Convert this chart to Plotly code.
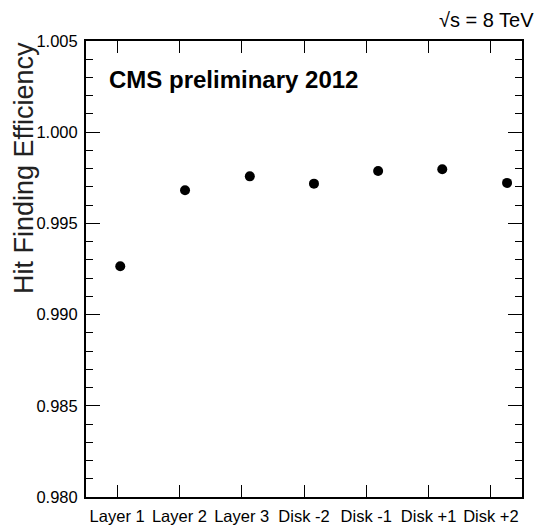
import plotly.graph_objects as go

categories = ["Layer 1", "Layer 2", "Layer 3", "Disk -2", "Disk -1", "Disk +1", "Disk +2"]
efficiency = [0.99265, 0.99682, 0.99758, 0.99718, 0.99787, 0.99797, 0.99722]
point_x = [0.55, 1.59, 2.63, 3.66, 4.69, 5.72, 6.76]
label_x = [i + 0.5 for i in range(len(categories))]
y_ticks = [0.980, 0.985, 0.990, 0.995, 1.000, 1.005]

W, H = 539, 525
L, R, T, B = 86, 17, 41, 28
FONT = "Liberation Sans, Arial, Helvetica, sans-serif"

fig = go.Figure()
fig.add_trace(go.Scatter(
    x=point_x, y=efficiency, mode="markers",
    marker=dict(color="black", size=10, symbol="circle"),
    showlegend=False, hoverinfo="skip", cliponaxis=False,
))

fig.update_layout(
    width=W, height=H,
    margin=dict(l=L, r=R, t=T, b=B, pad=0, autoexpand=False),
    paper_bgcolor="white", plot_bgcolor="white",
    font=dict(family=FONT, color="black", size=16),
    xaxis=dict(
        range=[0, 7], tickmode="array", tickvals=label_x, ticktext=categories,
        ticks="inside", ticklen=12, tickwidth=1, tickcolor="black",
        showline=True, linewidth=2, linecolor="black", mirror="allticks",
        showgrid=False, zeroline=False, automargin=False,
        tickfont=dict(size=16.5, family=FONT, color="black"),
        ticklabelstandoff=3,
    ),
    yaxis=dict(
        range=[0.980, 1.005], tickmode="array", tickvals=y_ticks,
        ticktext=[f"{v:.3f}" for v in y_ticks],
        ticks="inside", ticklen=14, tickwidth=1, tickcolor="black",
        minor=dict(ticks="inside", ticklen=7, dtick=0.001, tick0=0.98,
                   tickcolor="black", tickwidth=1, showgrid=False),
        showline=True, linewidth=2, linecolor="black", mirror="allticks",
        showgrid=False, zeroline=False, automargin=False,
        tickfont=dict(size=16.5, family=FONT, color="black"),
        ticklabelstandoff=3,
    ),
)

pw = W - L - R
ph = H - T - B
fig.add_annotation(
    text="Hit Finding Efficiency", textangle=-90,
    xref="paper", yref="paper",
    x=(24 - L) / pw, y=1 + (T - 40) / ph,
    xanchor="center", yanchor="top", showarrow=False,
    font=dict(size=27, family=FONT, color="#222"),
)
fig.add_annotation(
    text="<b>CMS preliminary 2012</b>",
    xref="paper", yref="paper",
    x=(107 - L) / pw, y=1 - (79 - T) / ph,
    xanchor="left", yanchor="middle", showarrow=False,
    font=dict(size=24, family=FONT, color="black"),
)
fig.add_annotation(
    text="√s = 8 TeV",
    xref="paper", yref="paper",
    x=(536 - L) / pw, y=1 + (T - 20) / ph,
    xanchor="right", yanchor="middle", showarrow=False,
    font=dict(size=20, family=FONT, color="black"),
)

fig.write_html("out.html")
